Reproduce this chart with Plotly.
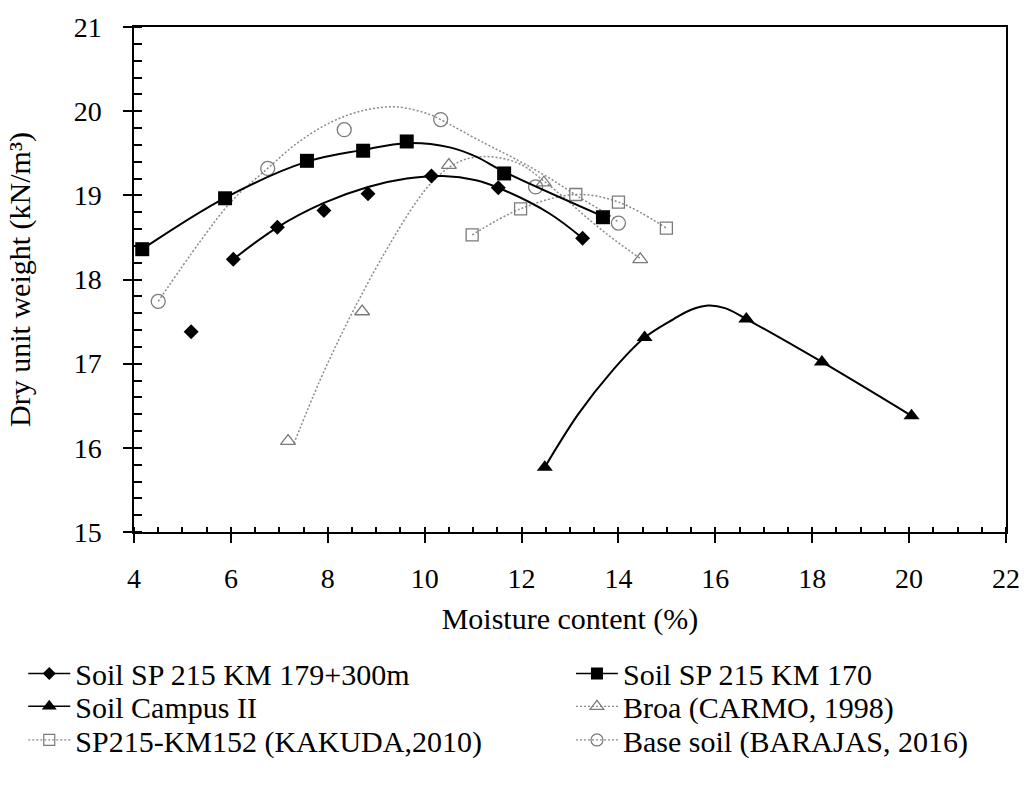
import plotly.graph_objects as go

FONT = "Liberation Serif"

# Measured compaction points: moisture content (%) and dry unit weight (kN/m3)
km179_x = [5.18, 6.05, 6.96, 7.92, 8.83, 10.14, 11.52, 13.26]
km179_y = [17.38, 18.24, 18.62, 18.82, 19.02, 19.23, 19.09, 18.49]

km170_x = [4.17, 5.88, 7.57, 8.73, 9.63, 11.64, 13.68]
km170_y = [18.36, 18.965, 19.41, 19.53, 19.64, 19.26, 18.74]

campus_x = [12.48, 14.54, 16.64, 18.20, 20.05]
campus_y = [15.77, 17.31, 17.53, 17.02, 16.38]

broa_x = [7.18, 8.71, 10.50, 12.46, 14.45]
broa_y = [16.08, 17.62, 19.36, 19.15, 18.24]

kakuda_x = [10.98, 11.98, 13.12, 14.00, 14.99]
kakuda_y = [18.53, 18.84, 19.01, 18.92, 18.61]

barajas_x = [4.50, 6.76, 8.34, 10.33, 12.29, 14.00]
barajas_y = [17.74, 19.32, 19.78, 19.90, 19.10, 18.67]

# Fitted compaction curves
km179_fit_x = [6.05, 6.96, 7.92, 8.83, 9.63, 10.38, 11.06, 11.52, 12.56, 13.26]
km179_fit_y = [18.24, 18.62, 18.91, 19.10, 19.20, 19.23, 19.18, 19.09, 18.79, 18.49]

km170_fit_x = [4.17, 5.88, 7.57, 8.73, 9.63, 10.52, 11.06, 11.64, 13.68]
km170_fit_y = [18.36, 18.97, 19.40, 19.54, 19.62, 19.57, 19.46, 19.28, 18.75]

campus_fit_x = [12.48, 13.17, 13.85, 14.54, 15.14, 15.50, 15.85, 16.20, 16.64, 18.20, 20.05]
campus_fit_y = [15.77, 16.40, 16.90, 17.31, 17.53, 17.64, 17.69, 17.66, 17.53, 17.02, 16.38]

broa_fit_x = [7.30, 7.83, 8.30, 8.80, 9.30, 9.80, 10.14, 10.50, 10.85, 11.20, 11.60,
              12.01, 12.46, 12.90, 13.44, 13.92, 14.45]
broa_fit_y = [16.05, 16.79, 17.37, 17.93, 18.44, 18.90, 19.15, 19.33, 19.43, 19.46, 19.44,
              19.36, 19.17, 18.96, 18.69, 18.47, 18.25]

barajas_fit_x = [4.50, 5.35, 6.03, 6.76, 7.39, 8.07, 8.75, 9.43, 10.11, 10.33, 11.20,
                 11.88, 12.56, 13.24, 13.92, 14.00]
barajas_fit_y = [17.74, 18.44, 18.94, 19.32, 19.63, 19.87, 20.01, 20.05, 19.96, 19.90, 19.63,
                 19.43, 19.21, 18.96, 18.72, 18.67]

names = [
    "Soil SP 215 KM 179+300m",
    "Soil SP 215 KM 170",
    "Soil Campus II",
    "Broa (CARMO, 1998)",
    "SP215-KM152 (KAKUDA,2010)",
    "Base soil (BARAJAS, 2016)",
]

BLACK = "#000000"
GREY_LINE = "#8a8a8a"
GREY_MARK = "#7a7a7a"
FINE_DOT = "2px,2px"

fig = go.Figure()


def curve(x, y, color, dash, width):
    return go.Scatter(
        x=x, y=y, mode="lines",
        line=dict(color=color, dash=dash, width=width, shape="spline", smoothing=1),
        showlegend=False, hoverinfo="skip",
    )


def points(x, y, symbol, size, color, open_=False):
    marker = dict(symbol=symbol, size=size, color=color)
    if open_:
        marker["line"] = dict(color=color, width=1.3)
    return go.Scatter(x=x, y=y, mode="markers", marker=marker,
                      showlegend=False, hoverinfo="x+y")


# literature curves (dotted grey)
fig.add_trace(curve(broa_fit_x, broa_fit_y, GREY_LINE, FINE_DOT, 1.5))
fig.add_trace(curve(kakuda_x, kakuda_y, GREY_LINE, FINE_DOT, 1.5))
fig.add_trace(curve(barajas_fit_x, barajas_fit_y, GREY_LINE, FINE_DOT, 1.5))
fig.add_trace(points(broa_x, broa_y, "triangle-up-open", 13, GREY_MARK, True))
fig.add_trace(points(kakuda_x, kakuda_y, "square-open", 12, GREY_MARK, True))
fig.add_trace(points(barajas_x, barajas_y, "circle-open", 14, GREY_MARK, True))

# tested soils (solid black)
fig.add_trace(curve(km179_fit_x, km179_fit_y, BLACK, "solid", 2))
fig.add_trace(curve(km170_fit_x, km170_fit_y, BLACK, "solid", 2))
fig.add_trace(curve(campus_fit_x, campus_fit_y, BLACK, "solid", 2))
fig.add_trace(points(km179_x, km179_y, "diamond", 11.5, BLACK))
fig.add_trace(points(km170_x, km170_y, "square", 14, BLACK))
fig.add_trace(points(campus_x, campus_y, "triangle-up", 14, BLACK))

# legend entries: one small legend per entry, laid out in three rows, two columns
legend_styles = [
    (names[0], "diamond", 10, BLACK, "solid", 1.5, False),
    (names[1], "square", 12, BLACK, "solid", 1.5, False),
    (names[2], "triangle-up", 13, BLACK, "solid", 1.5, False),
    (names[3], "triangle-up-open", 12, GREY_MARK, FINE_DOT, 1.2, True),
    (names[4], "square-open", 11, GREY_MARK, FINE_DOT, 1.2, True),
    (names[5], "circle-open", 12, GREY_MARK, FINE_DOT, 1.2, True),
]
legend_ids = ["legend", "legend2", "legend3", "legend4", "legend5", "legend6"]
for (name, sym, size, col, dash, lw, open_), leg in zip(legend_styles, legend_ids):
    mk = dict(symbol=sym, size=size, color=col)
    if open_:
        mk["line"] = dict(color=col, width=1.2)
    fig.add_trace(go.Scatter(
        x=[None], y=[None], mode="lines+markers", name=name,
        line=dict(color=(GREY_LINE if open_ else col), dash=dash, width=lw),
        marker=mk, legend=leg,
    ))

# helper trace so the overlay axes carrying the inner tick marks are drawn
fig.add_trace(go.Scatter(x=[None], y=[None], xaxis="x2", yaxis="y2",
                         showlegend=False, hoverinfo="skip"))

tick_font = dict(family=FONT, size=28, color=BLACK)
title_font = dict(family=FONT, size=30, color=BLACK)
legend_font = dict(family=FONT, size=30, color=BLACK)

legend_common = dict(
    orientation="v", xanchor="left", yanchor="middle",
    font=legend_font, bgcolor="rgba(0,0,0,0)", itemwidth=42,
    itemclick=False, itemdoubleclick=False,
)
col_x = [-0.1270, 0.5011]
row_y = [-0.2804, -0.3451, -0.4118]
legend_layout = {}
for i, leg in enumerate(legend_ids):
    legend_layout[leg] = dict(legend_common, x=col_x[i % 2], y=row_y[i // 2])

fig.update_layout(
    width=1032, height=787,
    margin=dict(l=134, r=16, t=22, b=255, pad=0),
    paper_bgcolor="white", plot_bgcolor="white",
    font=dict(family=FONT, color=BLACK),
    xaxis=dict(
        range=[4, 22], tick0=4, dtick=2,
        ticks="outside", ticklen=9, tickwidth=1.5, tickcolor=BLACK,
        minor=dict(ticks="inside", dtick=0.5, ticklen=5, tickwidth=1.5,
                   tickcolor=BLACK, showgrid=False),
        showline=True, linecolor=BLACK, linewidth=1.5, mirror=True,
        showgrid=False, zeroline=False, tickfont=tick_font, ticklabelstandoff=12,
        title=dict(text="Moisture content (%)", font=title_font, standoff=15),
    ),
    xaxis2=dict(
        range=[4, 22], tick0=4, dtick=2, overlaying="x", anchor="y", side="bottom",
        ticks="inside", ticklen=5, tickwidth=1.5, tickcolor=BLACK,
        showticklabels=False, showline=False, showgrid=False, zeroline=False,
    ),
    yaxis=dict(
        range=[15, 21], tick0=15, dtick=1,
        ticks="outside", ticklen=9, tickwidth=1.5, tickcolor=BLACK,
        minor=dict(ticks="inside", dtick=0.2, ticklen=8, tickwidth=1.5,
                   tickcolor=BLACK, showgrid=False),
        showline=True, linecolor=BLACK, linewidth=1.5, mirror=True,
        showgrid=False, zeroline=False, tickfont=tick_font, ticklabelstandoff=16,
        title=dict(text="Dry unit weight (kN/m³)", font=title_font, standoff=34),
    ),
    yaxis2=dict(
        range=[15, 21], tick0=15, dtick=1, overlaying="y", anchor="x", side="left",
        ticks="inside", ticklen=8, tickwidth=1.5, tickcolor=BLACK,
        showticklabels=False, showline=False, showgrid=False, zeroline=False,
    ),
    **legend_layout,
)

fig.write_html("out.html")
